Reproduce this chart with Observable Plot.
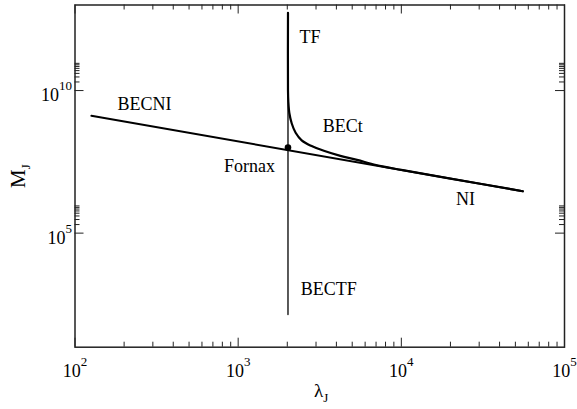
<!DOCTYPE html>
<html><head><meta charset="utf-8">
<script src="https://cdn.jsdelivr.net/npm/d3@7"></script>
<script src="https://cdn.jsdelivr.net/npm/@observablehq/plot@0.6"></script>
<style>body{margin:0;background:#fff}</style>
</head><body><div id="chart"></div>
<script>
// ---- data ----
const becniLambda = [126, 55500];
const becniMass   = [1.3e9, 2.95e6];

const bectLambda = [2020, 2020, 2030, 2060, 2130, 2250, 2450, 2800, 3350, 4230, 5350, 7000, 10000, 20000, 55500];
const bectMass   = [5.3e12, 1e10, 4e9, 1.6e9, 7e8, 3.3e8, 1.8e8, 1.15e8, 7.7e7, 5.1e7, 3.7e7, 2.45e7, 1.65e7, 8.2e6, 2.95e6];

const tfLambda = [2020, 2020];
const tfMass   = [1.4e2, 5.3e12];

const fornaxLambda = [2020];
const fornaxMass   = [1.0e8];

const labelText   = ["TF", "BECNI", "BECt", "Fornax", "NI", "BECTF"];
const labelLambda = [2375, 182, 3300, 818, 21600, 2420];
const labelMass   = [7.2e11, 3.2e9, 5.4e8, 2.3e7, 1.5e6, 1.05e3];

const xMajor = [1e2, 1e3, 1e4, 1e5];
const xTickLabels = ["10^2", "10^3", "10^4", "10^5"];
const xMinorDecades = [1e2, 1e3, 1e4];
const yMajor = [1e5, 1e10];
const yTickLabels = ["10^5", "10^10"];
const yMinorDecades = [1e5, 1e10];
const minorMult = [2, 3, 4, 5, 6, 7, 8, 9];

// ---- build tables ----
const becni = becniLambda.map((l, i) => ({l, m: becniMass[i]}));
const bect = bectLambda.map((l, i) => ({l, m: bectMass[i]}));
const tf = tfLambda.map((l, i) => ({l, m: tfMass[i]}));
const fornax = fornaxLambda.map((l, i) => ({l, m: fornaxMass[i]}));
const labels = labelText.map((t, i) => ({t, l: labelLambda[i], m: labelMass[i]}));
const xTicks = xMajor.map((v, i) => ({v, t: xTickLabels[i]}));
const yTicks = yMajor.map((v, i) => ({v, t: yTickLabels[i]}));
const xMinor = xMinorDecades.flatMap(d => minorMult.map(k => k * d));
const yMinor = yMinorDecades.flatMap(d => minorMult.map(k => k * d));

const W = 577, H = 409;
const mL = 74.5, mR = 13, mT = 4.5, mB = 62.3;
const iw = W - mL - mR, ih = H - mT - mB;
const major = 9, minor = 5;
const tc = "#222";
const FF = "Liberation Serif, DejaVu Serif, serif";

const svg = Plot.plot({
  width: W, height: H,
  marginLeft: mL, marginRight: mR, marginTop: mT, marginBottom: mB,
  style: {background: "white", color: "black", fontFamily: FF},
  x: {type: "log", domain: [1e2, 1e5], axis: null},
  y: {type: "log", domain: [1e1, 1e13], axis: null},
  marks: [
    Plot.tickX(xMajor, {x: d => d, insetTop: ih - major, stroke: tc}),
    Plot.tickX(xMinor, {x: d => d, insetTop: ih - minor, stroke: tc}),
    Plot.tickX(xMajor, {x: d => d, insetBottom: ih - major, stroke: tc}),
    Plot.tickX(xMinor, {x: d => d, insetBottom: ih - minor, stroke: tc}),
    Plot.tickY(yMajor, {y: d => d, insetRight: iw - major, stroke: tc}),
    Plot.tickY(yMinor, {y: d => d, insetRight: iw - minor, stroke: tc}),
    Plot.tickY(yMajor, {y: d => d, insetLeft: iw - major, stroke: tc}),
    Plot.tickY(yMinor, {y: d => d, insetLeft: iw - minor, stroke: tc}),
    Plot.text(xTicks, {x: "v", text: "t", frameAnchor: "bottom", lineAnchor: "bottom", textAnchor: "middle", dy: 29.3, fontSize: 18, fontFamily: FF}),
    Plot.text(yTicks, {y: "v", text: "t", frameAnchor: "left", lineAnchor: "bottom", textAnchor: "end", dx: -3, dy: 10.5, fontSize: 18, fontFamily: FF}),
    Plot.text(["λ_J"], {frameAnchor: "bottom", lineAnchor: "bottom", textAnchor: "middle", dx: 1.5, dy: 50, fontSize: 19, fontFamily: FF}),
    Plot.text(["M_J"], {frameAnchor: "left", lineAnchor: "bottom", textAnchor: "middle", rotate: -90, dx: -50.5, fontSize: 21, fontFamily: FF}),
    Plot.line(tf, {x: "l", y: "m", stroke: "black", strokeWidth: 1.3}),
    Plot.line(becni, {x: "l", y: "m", stroke: "black", strokeWidth: 2}),
    Plot.line(bect, {x: "l", y: "m", stroke: "black", strokeWidth: 2.2, curve: "catmull-rom"}),
    Plot.dot(fornax, {x: "l", y: "m", r: 3.3, fill: "black", stroke: null}),
    Plot.text(labels, {x: "l", y: "m", text: "t", textAnchor: "start", fontSize: 18, fontFamily: FF}),
    Plot.frame({stroke: tc, strokeWidth: 1.5})
  ]
});

d3.select(svg).selectAll("text").each(function() {
  const s = this.textContent;
  let m = s.match(/^(.+)\^(.+)$/);
  let sub = false;
  if (!m) { m = s.match(/^(.+)_(.+)$/); sub = true; }
  if (!m) return;
  const el = d3.select(this);
  el.text(null);
  el.append("tspan").text(m[1]);
  el.append("tspan").attr("dy", sub ? 5 : -11).attr("font-size", 13).text(m[2]);
});

document.getElementById("chart").appendChild(svg);
</script>
</body></html>
